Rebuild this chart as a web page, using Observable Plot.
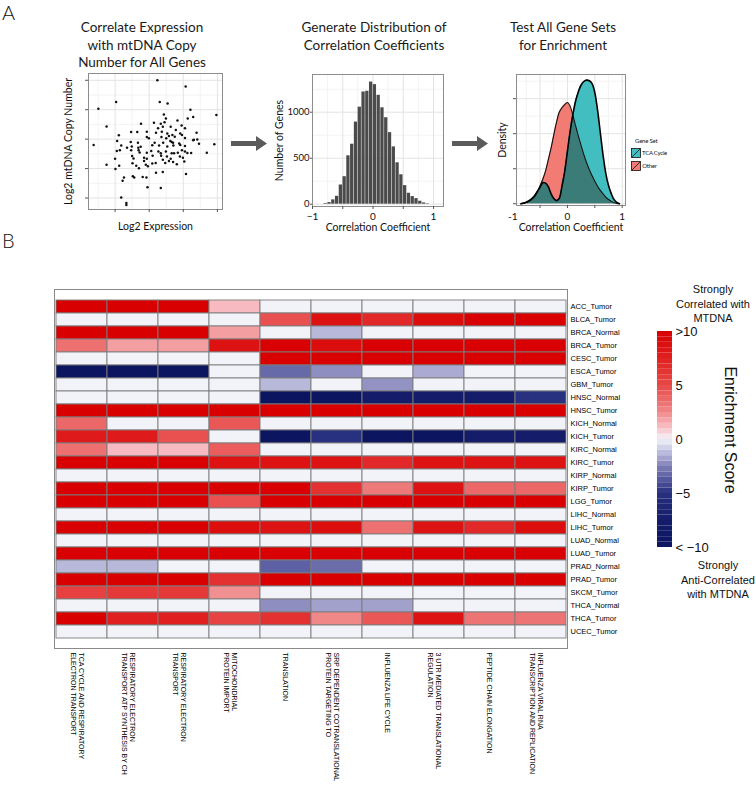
<!DOCTYPE html>
<html><head><meta charset="utf-8">
<script src="https://cdn.jsdelivr.net/npm/d3@7"></script>
<script src="https://cdn.jsdelivr.net/npm/@observablehq/plot@0.6"></script>
<style>
body{margin:0;background:#fff;}
#fig{position:relative;width:756px;height:789px;overflow:hidden;font-family:Lato,"Open Sans",sans-serif;color:#111;}
.t{position:absolute;white-space:nowrap;}
.title{position:absolute;text-align:center;font-size:13.5px;line-height:17.5px;width:220px;font-family:Lato;color:#1a1a1a;}
.hl{position:absolute;text-align:center;font-family:"Liberation Sans",Arial,sans-serif;font-size:11px;line-height:14.5px;width:120px;color:#111;}
</style></head><body><div id="fig"></div>
<script>
// ---------- Panel A data ----------
const scatterX = [2.24,3.07,0.51,1.03,2.31,2.54,3.21,3.97,2.43,2.49,3.13,3.29,0.75,1.76,2.14,2.34,2.45,2.83,2.95,3.05,2.26,2.40,2.63,2.78,1.47,1.65,1.93,2.20,2.37,2.53,2.68,2.91,2.96,3.39,1.11,1.93,1.99,2.36,2.50,2.58,2.75,3.05,3.31,3.41,1.06,1.46,1.67,2.16,2.41,2.62,2.66,2.70,2.88,3.29,3.46,3.91,0.37,1.18,1.35,1.49,1.68,1.75,2.09,2.29,2.53,2.71,2.91,3.05,1.05,1.14,1.47,1.69,1.72,1.93,2.06,2.27,2.34,2.49,2.66,2.73,2.84,2.96,3.05,3.12,3.23,3.69,1.00,1.50,1.54,1.85,1.93,2.10,2.35,2.52,2.63,2.90,2.99,0.75,1.12,1.51,1.62,1.85,1.90,1.96,2.09,2.19,2.40,2.47,2.58,2.70,2.81,3.03,1.01,1.70,2.20,2.40,3.08,1.26,1.52,1.56,1.81,1.92,1.22,1.95,2.34,1.18,1.33,1.33];
const scatterY = [5.00,4.79,4.03,4.26,4.26,4.21,4.00,3.82,3.84,3.70,3.70,3.75,3.43,3.52,3.56,3.52,3.57,3.63,3.46,3.37,3.37,3.42,3.42,3.31,3.24,3.24,3.25,3.22,3.25,3.19,3.14,3.19,3.14,3.22,3.13,3.07,3.03,3.07,3.03,3.11,3.08,3.04,2.98,2.99,2.94,2.90,2.88,2.88,2.88,2.94,2.90,2.88,2.85,2.96,2.84,2.83,2.80,2.78,2.71,2.75,2.71,2.74,2.79,2.78,2.75,2.78,2.80,2.77,2.60,2.62,2.62,2.62,2.55,2.54,2.60,2.58,2.52,2.58,2.52,2.52,2.54,2.62,2.58,2.53,2.53,2.54,2.33,2.43,2.34,2.37,2.33,2.44,2.44,2.41,2.33,2.41,2.37,2.13,2.10,2.18,2.10,2.26,2.13,2.08,2.17,2.19,2.30,2.19,2.26,2.22,2.15,2.24,1.99,2.01,1.86,1.88,1.82,1.70,1.74,1.70,1.71,1.70,1.59,1.37,1.34,1.02,0.83,0.76];

const histBinStart = [-0.8125,-0.75,-0.6875,-0.625,-0.5625,-0.5,-0.4375,-0.375,-0.3125,-0.25,-0.1875,-0.125,-0.0625,0,0.0625,0.125,0.1875,0.25,0.3125,0.375,0.4375,0.5,0.5625,0.625,0.6875,0.75,0.8125,0.875];
const histBinWidth = 0.0625;
const histCounts = [7,18,47,86,209,299,526,652,893,1055,1220,1228,1328,1300,1184,1048,940,778,623,450,320,202,119,83,61,32,14,5];

const densityX = [-0.85,-0.80,-0.75,-0.70,-0.65,-0.60,-0.55,-0.50,-0.45,-0.40,-0.35,-0.30,-0.25,-0.20,-0.15,-0.10,-0.05,0.00,0.05,0.10,0.15,0.20,0.25,0.30,0.35,0.40,0.45,0.50,0.55,0.60,0.65,0.70,0.75,0.80,0.85,0.90,0.95];
const densityTCA = [0,0.02,0.04,0.09,0.15,0.23,0.35,0.47,0.60,0.59,0.49,0.29,0.15,0.09,0.15,0.50,0.92,1.50,2.07,2.55,2.94,3.20,3.39,3.49,3.53,3.51,3.43,3.17,2.67,2.03,1.39,0.87,0.52,0.29,0.12,0.04,0];
const densityOther = [0,0.01,0.04,0.07,0.12,0.20,0.33,0.51,0.70,0.93,1.25,1.58,1.96,2.32,2.61,2.74,2.83,2.89,2.78,2.52,2.22,1.93,1.66,1.40,1.17,0.97,0.80,0.64,0.50,0.38,0.28,0.19,0.12,0.07,0.03,0.01,0];
const geneSets = ["TCA Cycle", "Other"];

// ---------- Panel B data ----------
const samples = ["ACC_Tumor","BLCA_Tumor","BRCA_Normal","BRCA_Tumor","CESC_Tumor","ESCA_Tumor","GBM_Tumor","HNSC_Normal","HNSC_Tumor","KICH_Normal","KICH_Tumor","KIRC_Normal","KIRC_Tumor","KIRP_Normal","KIRP_Tumor","LGG_Tumor","LIHC_Normal","LIHC_Tumor","LUAD_Normal","LUAD_Tumor","PRAD_Normal","PRAD_Tumor","SKCM_Tumor","THCA_Normal","THCA_Tumor","UCEC_Tumor"];
const pathways = ["TCA","RESP_ATP","RESP","MITO","TRANSL","SRP","FLU_LIFE","UTR3","PEPTIDE","FLU_RNA"];
const pathwayLabels = [
  "TCA CYCLE AND RESPIRATORY\nELECTRON TRANSPORT",
  "RESPIRATORY ELECTRON\nTRANSPORT ATP SYNTHESIS BY CH",
  "RESPIRATORY ELECTRON\nTRANSPORT",
  "MITOCHONDRIAL\nPROTEIN IMPORT",
  "TRANSLATION",
  "SRP DEPENDENT COTRANSLATIONAL\nPROTEIN TARGETING TO",
  "INFLUENZA LIFE CYCLE",
  "3 UTR MEDIATED TRANSLATIONAL\nREGULATION",
  "PEPTIDE CHAIN ELONGATION",
  "INFLUENZA VIRAL RNA\nTRANSCRIPTION AND REPLICATION"
];
const enrichment = [
  [10,10,10,1.2,0,0,0,0,0,0],
  [0,0,0,0,4.7,8.7,7,9,10,10],
  [10,10,10,1.9,0,-1.3,0,0,0,0],
  [3.4,1.9,1.9,8.5,10,9,10,10,10,10],
  [0,0,0,0,10,10,10,10,10,10],
  [-10,-10,-10,0,-3.2,-2.2,0,-1.6,0,0],
  [0,0,0,0,-1.3,0,-2.1,0,0,0],
  [0,0,0,0,-10,-10,-7.5,-7.5,-7.5,-5],
  [10,10,10,10,10,10,10,10,10,10],
  [3.8,0,0,4.4,0,0,0,0,0,0],
  [8,8,4.7,0,-10,-5,-10,-10,-7.5,-7.5],
  [3.4,1.2,1.2,4.2,0,0,0,0,0,0],
  [10,10,10,8.5,8.5,8.5,7,8.5,8.5,8.5],
  [0,0,0,0,0,0,0,0,0,0],
  [10,10,10,10,10,6.5,3.1,8.5,3.8,3.8],
  [10,10,10,4.7,10,10,10,10,10,10],
  [0,0,0,0,0,0,0,0,0,0],
  [10,10,10,9,8.5,9,3.4,8.5,7,9],
  [0,0,0,0,0,0,0,0,0,0],
  [10,10,10,10,10,10,10,10,10,10],
  [-1.3,-1.3,0,0,-3.5,-3.1,0,0,0,0],
  [10,10,10,6.5,10,10,10,10,10,10],
  [5.5,6,6,2.3,0,0,0,0,0,0],
  [0,0,0,0,-2.2,-1.8,-1.8,0,0,0],
  [10,7.5,7.5,5.3,6.5,2.5,4.4,8.5,3.3,3.3],
  [0,0,0,0,0,0,0,0,0,0]
];
const colorStops = [-10,-7.5,-5,-2.5,-1,0,1,2.5,5,7.5,10];
const colorStopColors = ["#0b1560","#151d6a","#283080","#8080b8","#c6c6e3","#f2f3f9","#f8c2c9","#f08888","#e84848","#e02020","#d80000"];
const colorbarTicks = [-10,-5,0,5,10];
const colorbarTickLabels = ["< \u221210","\u22125","0","5",">10"];

// ---------- helpers ----------
const fig = document.getElementById("fig");
function place(el, left, top) {
  el.style.position = "absolute"; el.style.left = left + "px"; el.style.top = top + "px";
  fig.appendChild(el); return el;
}
function addHTML(html) { fig.insertAdjacentHTML("beforeend", html); }
const grey = "#8c8c8c";
const gridMajor = {stroke: "#e3e3e3", strokeOpacity: 1};
const gridMinor = {stroke: "#f3f3f3", strokeOpacity: 1};
const centered = {textAnchor: "middle", lineAnchor: "middle"};

// ---------- Panel A: scatter ----------
const scatterData = scatterX.map((x, i) => ({x, y: scatterY[i]}));
place(Plot.plot({
  width: 170, height: 180, marginLeft: 28, marginRight: 8, marginTop: 13, marginBottom: 31,
  style: {fontFamily: "Lato", fontSize: "10px", background: "transparent", overflow: "visible"},
  x: {domain: [0.22, 4.15]}, y: {domain: [0.61, 5.23]},
  marks: [
    Plot.gridX({ticks: [0.5, 1.5, 2.5, 3.5], ...gridMinor}),
    Plot.gridY({ticks: [1.5, 2.5, 3.5, 4.5], ...gridMinor}),
    Plot.gridX({ticks: [1, 2, 3, 4], ...gridMajor}),
    Plot.gridY({ticks: [1, 2, 3, 4, 5], ...gridMajor}),
    Plot.dot(scatterData, {x: "x", y: "y", r: 1.25, fill: "#111", stroke: null}),
    Plot.frame({stroke: grey}),
    Plot.axisX({ticks: [1, 2, 3, 4], tickSize: 3, tickFormat: () => "", label: null, stroke: "#555"}),
    Plot.axisY({ticks: [1, 2, 3, 4, 5], tickSize: 3, tickFormat: () => "", label: null, stroke: "#555"}),
    Plot.text(["Log2 Expression"], {frameAnchor: "bottom", dy: 17, fontSize: 10.5, ...centered}),
    Plot.text(["Log2 mtDNA Copy Number"], {frameAnchor: "left", rotate: -90, dx: -20, fontSize: 10.5, ...centered})
  ]
}), 60, 60);

// ---------- Panel A: histogram ----------
const histData = histBinStart.map((x0, i) => ({x1: x0, x2: x0 + histBinWidth, count: histCounts[i]}));
place(Plot.plot({
  width: 169, height: 178, marginLeft: 32, marginRight: 6, marginTop: 14, marginBottom: 32,
  style: {fontFamily: "Lato", fontSize: "9.5px", background: "transparent", overflow: "visible"},
  x: {domain: [-1, 1.165]}, y: {domain: [-25, 1410]},
  marks: [
    Plot.gridX({ticks: [-0.75, -0.25, 0.25, 0.75], ...gridMinor}),
    Plot.gridY({ticks: [250, 750, 1250], ...gridMinor}),
    Plot.gridX({ticks: [-0.5, 0, 0.5, 1], ...gridMajor}),
    Plot.gridY({ticks: [0, 500, 1000], ...gridMajor}),
    Plot.rectY(histData, {x1: "x1", x2: "x2", y: "count", fill: "#4b4b4b", insetLeft: 0.25, insetRight: 0.25}),
    Plot.frame({stroke: grey}),
    Plot.axisY({ticks: [0, 500, 1000], tickSize: 2, tickPadding: 1, label: null, fontSize: 9.5, stroke: "#555",
      tickFormat: d => String(d)}),
    Plot.axisX({ticks: [-1, -0.5, 0, 0.5, 1], tickSize: 3, tickPadding: 3, label: null, fontSize: 10, stroke: "#555",
      tickFormat: d => d === -1 ? "\u22121" : d === 0 ? "0" : d === 1 ? "1" : ""}),
    Plot.text(["Correlation Coefficient"], {frameAnchor: "bottom", dy: 21, fontSize: 10.5, ...centered}),
    Plot.text(["Number of Genes"], {frameAnchor: "left", rotate: -90, dx: -33, fontSize: 10.5, ...centered})
  ]
}), 280, 60);

// ---------- Panel A: density ----------
const densityData = densityX.map((x, i) => ({x, tca: densityTCA[i], other: densityOther[i], both: Math.min(densityTCA[i], densityOther[i])}));
place(Plot.plot({
  width: 160, height: 178, marginLeft: 46, marginRight: 5, marginTop: 14, marginBottom: 33,
  style: {fontFamily: "Lato", fontSize: "10px", background: "transparent", overflow: "visible"},
  x: {domain: [-0.93, 1.06]}, y: {domain: [-0.05, 3.69]},
  marks: [
    Plot.gridX({ticks: [-0.75, -0.25, 0.25, 0.75], ...gridMinor}),
    Plot.gridY({ticks: [0.5, 1.5, 2.5, 3.5], ...gridMinor}),
    Plot.gridX({ticks: [-0.5, 0, 0.5, 1], ...gridMajor}),
    Plot.gridY({ticks: [0, 1, 2, 3], ...gridMajor}),
    Plot.areaY(densityData, {x: "x", y: "other", fill: "#f27b73", curve: "catmull-rom"}),
    Plot.areaY(densityData, {x: "x", y: "tca", fill: "#42bec1", curve: "catmull-rom"}),
    Plot.areaY(densityData, {x: "x", y: "both", fill: "#3b7c79", curve: "catmull-rom"}),
    Plot.lineY(densityData, {x: "x", y: "other", stroke: "#111", strokeWidth: 1.1, curve: "catmull-rom"}),
    Plot.lineY(densityData, {x: "x", y: "tca", stroke: "#000", strokeWidth: 1.6, curve: "catmull-rom"}),
    Plot.frame({stroke: grey}),
    Plot.axisY({ticks: [0, 1, 2, 3], tickSize: 3, tickFormat: () => "", label: null, stroke: "#555"}),
    Plot.axisX({ticks: [-0.5, 0, 0.5, 1], tickSize: 3, tickFormat: () => "", label: null, stroke: "#555"}),
    Plot.axisX({ticks: [-1, 0, 1], tickSize: 0, tickPadding: 7, label: null, fontSize: 10,
      tickFormat: d => d === -1 ? "-1" : String(d)}),
    Plot.text(["Correlation Coefficient"], {frameAnchor: "bottom", dy: 22, fontSize: 10.5, ...centered}),
    Plot.text(["Density"], {frameAnchor: "left", rotate: -90, dx: -14, fontSize: 10.5, ...centered})
  ]
}), 470, 60);

// gene set legend
const swatch = c => `<svg width="10" height="10" style="vertical-align:middle"><rect x="0.5" y="0.5" width="9" height="9" fill="${c}" stroke="#111" stroke-width="0.8"/><line x1="1" y1="9" x2="9" y2="1" stroke="#111" stroke-width="0.8"/></svg>`;
addHTML(`<div class="t" style="left:635px;top:137px;font-size:6px;font-family:Lato;letter-spacing:-0.2px">Gene Set</div>`);
addHTML(`<div class="t" style="left:631px;top:148px;font-size:6px;font-family:Lato;letter-spacing:-0.25px;line-height:10px">${swatch("#42bec1")} ${geneSets[0]}</div>`);
addHTML(`<div class="t" style="left:631px;top:161px;font-size:6px;font-family:Lato;letter-spacing:-0.25px;line-height:10px">${swatch("#f27b73")} ${geneSets[1]}</div>`);

// arrows
const arrow = `<svg width="37" height="15"><path d="M0,5 H25 V0 L36,7.5 L25,15 V10 H0 Z" fill="#5b5b5b"/></svg>`;
addHTML(`<div class="t" style="left:231px;top:136px;line-height:0">${arrow}</div>`);
addHTML(`<div class="t" style="left:452px;top:136px;line-height:0">${arrow}</div>`);

// titles and panel letters
addHTML(`<div class="t" style="left:2px;top:0px;font-size:20px;line-height:24px;font-family:Lato;font-weight:300">A</div>`);
addHTML(`<div class="t" style="left:2px;top:228px;font-size:20px;line-height:24px;font-family:Lato;font-weight:300">B</div>`);
addHTML(`<div class="title" style="left:32px;top:19px">Correlate Expression<br>with mtDNA Copy<br>Number for All Genes</div>`);
addHTML(`<div class="title" style="left:264px;top:19px">Generate Distribution of<br>Correlation Coefficients</div>`);
addHTML(`<div class="title" style="left:453px;top:19px">Test All Gene Sets<br>for Enrichment</div>`);

// ---------- Panel B: heatmap ----------
const colorOpts = {type: "linear", domain: colorStops, range: colorStopColors, clamp: true, interpolate: d3.interpolateRgb};
const cells = [];
samples.forEach((s, i) => pathways.forEach((p, j) => cells.push({sample: s, pathway: p, value: enrichment[i][j]})));
place(Plot.plot({
  width: 756, height: 534, marginLeft: 54, marginRight: 189, marginTop: 34, marginBottom: 141,
  style: {fontFamily: "Liberation Sans, Arial, sans-serif", fontSize: "7.5px", background: "transparent", overflow: "visible"},
  x: {domain: pathways, padding: 0, axis: null},
  y: {domain: samples, padding: 0},
  color: colorOpts,
  marks: [
    Plot.cell(cells, {x: "pathway", y: "sample", fill: "value", stroke: "#7c7c7c", strokeWidth: 0.9}),
    Plot.frame({stroke: "#8a8a8a"}),
    Plot.axisY({anchor: "right", tickSize: 0, tickPadding: 3, fontSize: 7.5, label: null, fill: "#000"}),
    Plot.text(pathways, {x: d => d, text: (d, i) => pathwayLabels[i], frameAnchor: "bottom", rotate: 90,
      textAnchor: "start", lineAnchor: "top", dx: 2, dy: 4, fontSize: 7, lineHeight: 1.1, fill: "#000"})
  ]
}), 0, 255);

// color bar legend
const colorbarSteps = d3.range(-10, 10, 0.5);
place(Plot.plot({
  width: 82, height: 241, marginLeft: 17, marginRight: 50, marginTop: 11, marginBottom: 14,
  style: {fontFamily: "Liberation Sans, Arial, sans-serif", fontSize: "13px", background: "transparent", overflow: "visible"},
  x: {domain: [0, 1], axis: null},
  y: {domain: [-10, 10]},
  color: colorOpts,
  marks: [
    Plot.rect(colorbarSteps, {x1: 0, x2: 1, y1: d => d, y2: d => d + 0.5, fill: d => d + 0.25}),
    Plot.axisY({anchor: "right", ticks: colorbarTicks, tickSize: 0, tickPadding: 3, fontSize: 13, label: null,
      tickFormat: d => colorbarTickLabels[colorbarTicks.indexOf(d)]})
  ]
}), 640, 320);

addHTML(`<div class="hl" style="left:653px;top:282px">Strongly<br>Correlated with<br>MTDNA</div>`);
addHTML(`<div class="hl" style="left:658px;top:558px">Strongly<br>Anti-Correlated<br>with MTDNA</div>`);
addHTML(`<div class="t" style="left:730px;top:430px;font-family:'Liberation Sans',Arial,sans-serif;font-size:16px;transform:translate(-50%,-50%) rotate(90deg);">Enrichment Score</div>`);
</script></body></html>
